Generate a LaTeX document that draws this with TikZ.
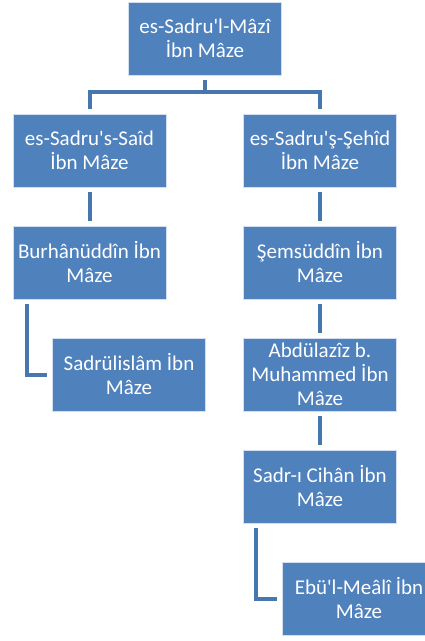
\documentclass[tikz,border=0pt]{standalone}
\usepackage{fontspec}
\setmainfont{Carlito}
\usepackage{tikz}
\definecolor{boxblue}{HTML}{4F81BD}
\definecolor{lineblue}{HTML}{4877AE}

\begin{document}
\begin{tikzpicture}
[x={(1pt,0pt)},y={(0pt,-1pt)}
,bn/.style={rectangle,fill=boxblue,draw=white!75!boxblue,line width=0.6pt
  ,minimum width=153pt,minimum height=73pt,inner sep=0pt
  ,text=white,align=center,font=\fontsize{21}{24}\selectfont}
,ce/.style={draw=lineblue,line width=4pt,shorten <=5pt,shorten >=5pt}
]
\useasboundingbox (0,0) rectangle (425,641);
\node[bn] (n0) at (205,38.5) {es-Sadru\textquotesingle l-Mâzî\\İbn Mâze};
\node[bn] (n1) at (89.5,150.5) {es-Sadru\textquotesingle s-Saîd\\İbn Mâze};
\node[bn] (n2) at (320,150.5) {es-Sadru\textquotesingle ş-Şehîd\\İbn Mâze};
\node[bn] (n3) at (89.5,262.5) {Burhânüddîn İbn\\Mâze};
\node[bn] (n4) at (320,262.5) {Şemsüddîn İbn\\Mâze};
\node[bn] (n5) at (129,374.5) {Sadrülislâm İbn\\Mâze};
\node[bn] (n6) at (320,374.5) {Abdülazîz b.\\Muhammed İbn\\Mâze};
\node[bn] (n7) at (320,486.5) {Sadr-ı Cihân İbn\\Mâze};
\node[bn] (n8) at (359,598.5) {Ebü\textquotesingle l-Meâlî İbn\\Mâze};

\draw[ce] (n0.south) -- ++(0,17) -| (n1.north);
\draw[ce] (n0.south) -- ++(0,17) -| (n2.north);
\draw[ce] (n1) -- (n3);
\draw[ce] (n2) -- (n4);
\draw[ce] (n4) -- (n6);
\draw[ce] (n6) -- (n7);

\draw[ce] ([xshift=14pt]n3.south west) |- (n5.west);
\draw[ce] ([xshift=13pt]n7.south west) |- (n8.west);
\end{tikzpicture}
\end{document}
